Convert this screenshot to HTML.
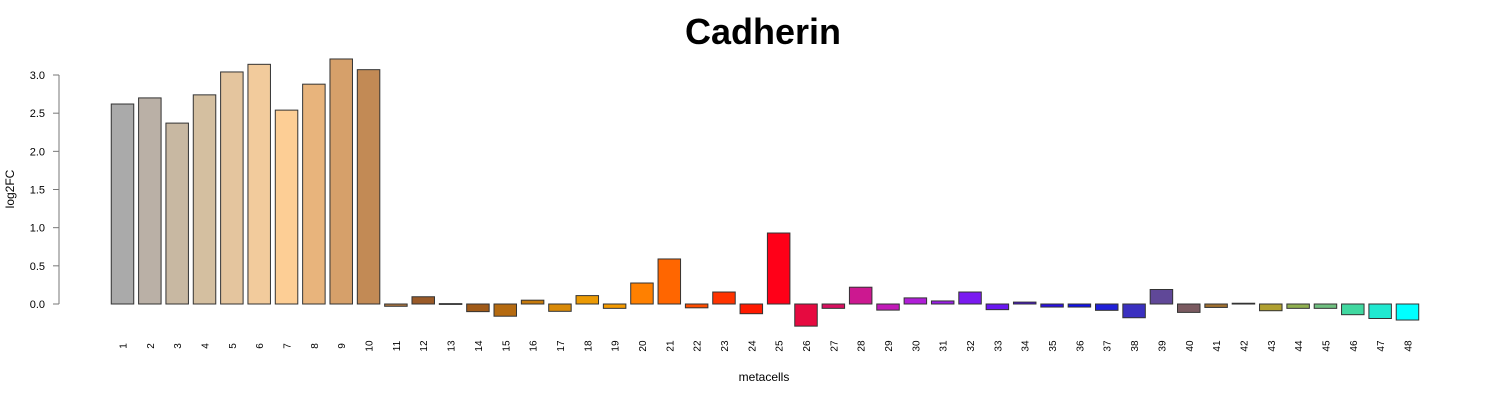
<!DOCTYPE html>
<html><head><meta charset="utf-8"><style>
body{margin:0;background:#fff;}
svg text{font-family:"Liberation Sans",sans-serif;}
</style></head><body>
<svg id="chart" width="1500" height="400" xmlns="http://www.w3.org/2000/svg">
<text x="763" y="44" text-anchor="middle" font-size="36" font-weight="bold">Cadherin</text>
<text transform="translate(14,189) rotate(-90)" text-anchor="middle" font-size="12">log2FC</text>
<text x="764" y="381" text-anchor="middle" font-size="12">metacells</text>
<g id="yaxis"></g>
<g id="bars"></g>
<g id="xlabels"></g>
</svg>
<script>
const categories = Array.from({length:48},(_,i)=>String(i+1));
const values = [2.62,2.70,2.37,2.74,3.04,3.14,2.54,2.88,3.21,3.07,
-0.03,0.095,0.005,-0.10,-0.16,0.05,-0.096,0.11,-0.057,0.275,
0.59,-0.05,0.157,-0.127,0.93,-0.29,-0.057,0.22,-0.08,0.08,
0.04,0.157,-0.074,0.025,-0.04,-0.04,-0.083,-0.18,0.19,-0.11,
-0.045,0.01,-0.088,-0.057,-0.057,-0.14,-0.19,-0.21];
const colors = ["#aaaaaa","#bab0a6","#c8b8a2","#d4bfa0","#e4c59e","#f2cb9c","#fdce95","#e8b47c","#d6a06a","#c28a55",
"#b07840","#9a5a28","#8a4a1a","#a05a18","#b56a10","#c67a0c","#d98a08","#eb9a04","#f49a00","#ff8000",
"#ff6600","#ff4d00","#ff3300","#ff1a00","#ff0018","#e60a40","#d81060","#cc1890","#c21ab8","#b01ed8",
"#9a1ee8","#7a1af0","#6a18f0","#4a10e0","#2a10e8","#1010f0","#2020d8","#3a30c0","#604898","#7a5a60",
"#a07030","#8c8a40","#b0a030","#90b050","#70c080","#40d8a0","#20e8d0","#00ffff"];
const yTicks = [0,0.5,1,1.5,2,2.5,3];
const yTickLabels = ["0.0","0.5","1.0","1.5","2.0","2.5","3.0"];
const NS="http://www.w3.org/2000/svg";
const y0=304, pxPer=76.33;
const y=v=>y0-v*pxPer;
const x=i=>122.5+i*27.34;
const bw=22.5;
const ya=document.getElementById('yaxis'), bg=document.getElementById('bars'), xl=document.getElementById('xlabels');
function mk(tag,attrs,parent){const e=document.createElementNS(NS,tag);for(const k in attrs)e.setAttribute(k,attrs[k]);parent.appendChild(e);return e;}
const axl=mk('line',{x1:59,x2:59,y1:y(yTicks[0]),y2:y(yTicks[yTicks.length-1]),stroke:'#777'},ya);


yTicks.forEach((t,i)=>{
  const l=mk('line',{x1:53,x2:59,y1:y(t),y2:y(t),stroke:'#777'},ya);
  
  
  const tx=mk('text',{x:45,y:y(t)+4,'text-anchor':'end','font-size':11},ya);
  tx.textContent=yTickLabels[i];
  
  
});
values.forEach((v,i)=>{
  const top=Math.min(y(v),y0), h=Math.max(Math.abs(y(v)-y0),0.8);
  const r=mk('rect',{x:x(i)-bw/2,y:top,width:bw,height:h,fill:colors[i],stroke:'#333','stroke-width':1},bg);
  
  
  const tx=mk('text',{transform:`translate(${x(i)+4},${346}) rotate(-90)`,'text-anchor':'middle','font-size':10},xl);
  tx.textContent=categories[i];
  
  
});
</script>
</body></html>
